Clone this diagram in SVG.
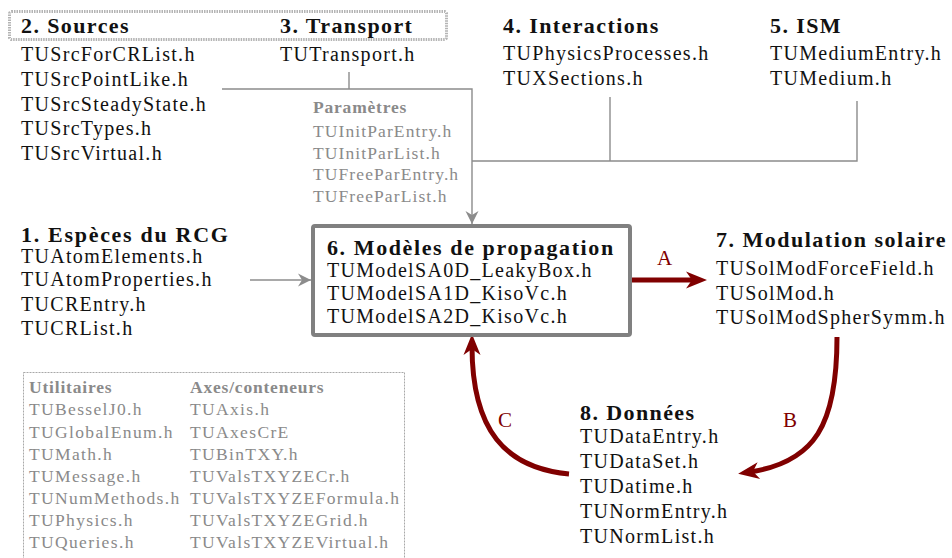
<svg xmlns="http://www.w3.org/2000/svg" width="952" height="558" viewBox="0 0 952 558">
<style>
text{font-family:"Liberation Serif","Times New Roman",serif;fill:#111}
.h{font-weight:bold;font-size:22px;letter-spacing:1.4px}
.t{font-size:20px;letter-spacing:1.3px}
.g{font-size:17.5px;letter-spacing:1.1px;fill:#8a8a8a}
.u{font-size:17.5px;letter-spacing:1.35px;fill:#8a8a8a}
.gh{font-size:17.5px;font-weight:bold;letter-spacing:0.8px;fill:#8a8a8a}
.lbl{font-size:21px;fill:#800000}
.conn{fill:none;stroke:#8c8c8c;stroke-width:1.4}
.red{fill:none;stroke:#800000;stroke-width:5}
</style>
<defs>
<marker id="ag" markerUnits="userSpaceOnUse" markerWidth="16" markerHeight="16" viewBox="-14 -8 16 16" refX="0" refY="0" orient="auto">
<path d="M0,0 L-13,-6.5 L-9,0 L-13,6.5 Z" fill="#8c8c8c"/>
</marker>
<marker id="ar" markerUnits="userSpaceOnUse" markerWidth="26" markerHeight="22" viewBox="-23 -11 26 22" refX="-12" refY="0" orient="auto">
<path d="M0,0 L-21,-8.5 L-15,0 L-21,8.5 Z" fill="#800000"/>
</marker>
</defs>

<rect x="9.5" y="11.5" width="437" height="28" rx="2" fill="none" stroke="#b4b4b4" stroke-width="3" stroke-dasharray="1.5,1"/>

<g id="connectors">
<path class="conn" d="M349 72 V89"/>
<path class="conn" d="M222 89 H472 V224" marker-end="url(#ag)"/>
<path class="conn" d="M610 97 V161"/>
<path class="conn" d="M857 101 V161 H472"/>
<path class="conn" d="M250 280 H311" marker-end="url(#ag)"/>
<path class="red" d="M631 280 H695" marker-end="url(#ar)"/>
<path class="red" d="M837 337 C837 425 815 462 750 472" marker-end="url(#ar)"/>
<path class="red" d="M569 474 C505 468 472 430 472 346" marker-end="url(#ar)"/>
<text class="lbl" x="657" y="265">A</text>
<text class="lbl" x="783" y="427">B</text>
<text class="lbl" x="498" y="427">C</text>
</g>

<g id="n2">
<text class="h" x="21" y="33">2. Sources</text>
<text class="t" x="21" y="61">TUSrcForCRList.h</text>
<text class="t" x="21" y="85.7">TUSrcPointLike.h</text>
<text class="t" x="21" y="110.5">TUSrcSteadyState.h</text>
<text class="t" x="21" y="135.2">TUSrcTypes.h</text>
<text class="t" x="21" y="160">TUSrcVirtual.h</text>
</g>

<g id="n3">
<text class="h" x="280" y="33">3. Transport</text>
<text class="t" x="280" y="61">TUTransport.h</text>
</g>

<g id="n4">
<text class="h" x="503" y="33">4. Interactions</text>
<text class="t" x="503" y="60">TUPhysicsProcesses.h</text>
<text class="t" x="503" y="85">TUXSections.h</text>
</g>

<g id="n5">
<text class="h" x="770" y="33">5. ISM</text>
<text class="t" x="770" y="60">TUMediumEntry.h</text>
<text class="t" x="770" y="85">TUMedium.h</text>
</g>

<g id="params">
<text class="gh" x="313" y="113">Paramètres</text>
<text class="g" x="313" y="137">TUInitParEntry.h</text>
<text class="g" x="313" y="158.5">TUInitParList.h</text>
<text class="g" x="313" y="180">TUFreeParEntry.h</text>
<text class="g" x="313" y="201.5">TUFreeParList.h</text>
</g>

<g id="n1">
<text class="h" x="21" y="242" style="letter-spacing:1.7px">1. Espèces du RCG</text>
<text class="t" x="21" y="263">TUAtomElements.h</text>
<text class="t" x="21" y="286">TUAtomProperties.h</text>
<text class="t" x="21" y="310.5">TUCREntry.h</text>
<text class="t" x="21" y="335">TUCRList.h</text>
</g>

<g id="n6">
<rect x="313" y="226" width="317" height="109" rx="2" fill="#fff" stroke="#808080" stroke-width="4"/>
<text class="h" x="327" y="255" style="letter-spacing:1.6px">6. Modèles de propagation</text>
<text class="t" x="327" y="276.5">TUModelSA0D_LeakyBox.h</text>
<text class="t" x="327" y="299.5">TUModelSA1D_KisoVc.h</text>
<text class="t" x="327" y="322.5">TUModelSA2D_KisoVc.h</text>
</g>

<g id="n7">
<text class="h" x="716" y="247" style="letter-spacing:1.5px">7. Modulation solaire</text>
<text class="t" x="716" y="275">TUSolModForceField.h</text>
<text class="t" x="716" y="299.5">TUSolMod.h</text>
<text class="t" x="716" y="324">TUSolModSpherSymm.h</text>
</g>

<g id="n8">
<text class="h" x="580" y="420">8. Données</text>
<text class="t" x="580" y="443">TUDataEntry.h</text>
<text class="t" x="580" y="468">TUDataSet.h</text>
<text class="t" x="580" y="493">TUDatime.h</text>
<text class="t" x="580" y="518">TUNormEntry.h</text>
<text class="t" x="580" y="543">TUNormList.h</text>
</g>

<g id="utils">
<rect x="23.5" y="372.5" width="381" height="200" fill="none" stroke="#a8a8a8" stroke-width="1" stroke-dasharray="2,1"/>
<text class="gh" x="29" y="393">Utilitaires</text>
<text class="u" x="29" y="415">TUBesselJ0.h</text>
<text class="u" x="29" y="438">TUGlobalEnum.h</text>
<text class="u" x="29" y="460">TUMath.h</text>
<text class="u" x="29" y="482">TUMessage.h</text>
<text class="u" x="29" y="504">TUNumMethods.h</text>
<text class="u" x="29" y="526">TUPhysics.h</text>
<text class="u" x="29" y="548">TUQueries.h</text>
<text class="gh" x="190" y="393">Axes/conteneurs</text>
<text class="u" x="190" y="415">TUAxis.h</text>
<text class="u" x="190" y="438">TUAxesCrE</text>
<text class="u" x="190" y="460">TUBinTXY.h</text>
<text class="u" x="190" y="482">TUValsTXYZECr.h</text>
<text class="u" x="190" y="504">TUValsTXYZEFormula.h</text>
<text class="u" x="190" y="526">TUValsTXYZEGrid.h</text>
<text class="u" x="190" y="548">TUValsTXYZEVirtual.h</text>
</g>
</svg>
